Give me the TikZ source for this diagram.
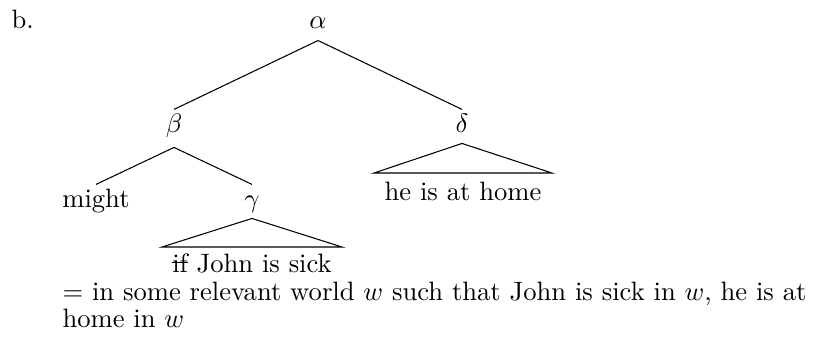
\documentclass[tikz,border=0pt]{standalone}
\newsavebox\strkbox
\newcommand\strk[1]{\sbox\strkbox{#1}\rlap{\rule[3.4pt]{\wd\strkbox}{0.4pt}}#1}
\begin{document}
\begin{tikzpicture}[x=0.376pt,y=-0.376pt,
  lbl/.style={inner sep=0pt, anchor=base, text height=7pt, text depth=2pt},
  txt/.style={inner sep=0pt, anchor=base},
  br/.style={line width=0.4pt}]
\useasboundingbox (0,0) rectangle (815,336);
\node[txt,anchor=base west] (ex) at (11,28) {b.};
\node[lbl] (al) at (318,28) {$\alpha$};
\node[lbl] (be) at (174,132) {$\beta$};
\node[lbl] (de) at (462,132) {$\delta$};
\node[lbl] (mi) at (96,207) {might};
\node[lbl] (ga) at (252,207) {$\gamma$};
\coordinate (gl) at (162,247);
\coordinate (gr) at (342,247);
\coordinate (dl) at (374,173);
\coordinate (dr) at (552,173);
\node[txt] (gt) at (252,272) {\strk{if} John is sick};
\node[txt] (dt) at (463,200) {he is at home};
\draw[br] ([yshift=-2.5pt]al.south) -- ([yshift=1.3pt]be.north);
\draw[br] ([yshift=-2.5pt]al.south) -- ([yshift=1.3pt]de.north);
\draw[br] ([yshift=-3.6pt]be.south) -- ([yshift=1.3pt]mi.north);
\draw[br] ([yshift=-3.6pt]be.south) -- ([yshift=1.3pt]ga.north);
\draw[br] ([yshift=-2.1pt]ga.south) -- (gl) -- (gr) -- cycle;
\draw[br] ([yshift=-2.1pt]de.south) -- (dl) -- (dr) -- cycle;
\node[txt,anchor=base west] (l1) at (62,300) {= in some relevant world $w$ such that John is sick in $w$, he is at};
\node[txt,anchor=base west] (l2) at (62,327) {home in $w$};
\end{tikzpicture}
\end{document}
